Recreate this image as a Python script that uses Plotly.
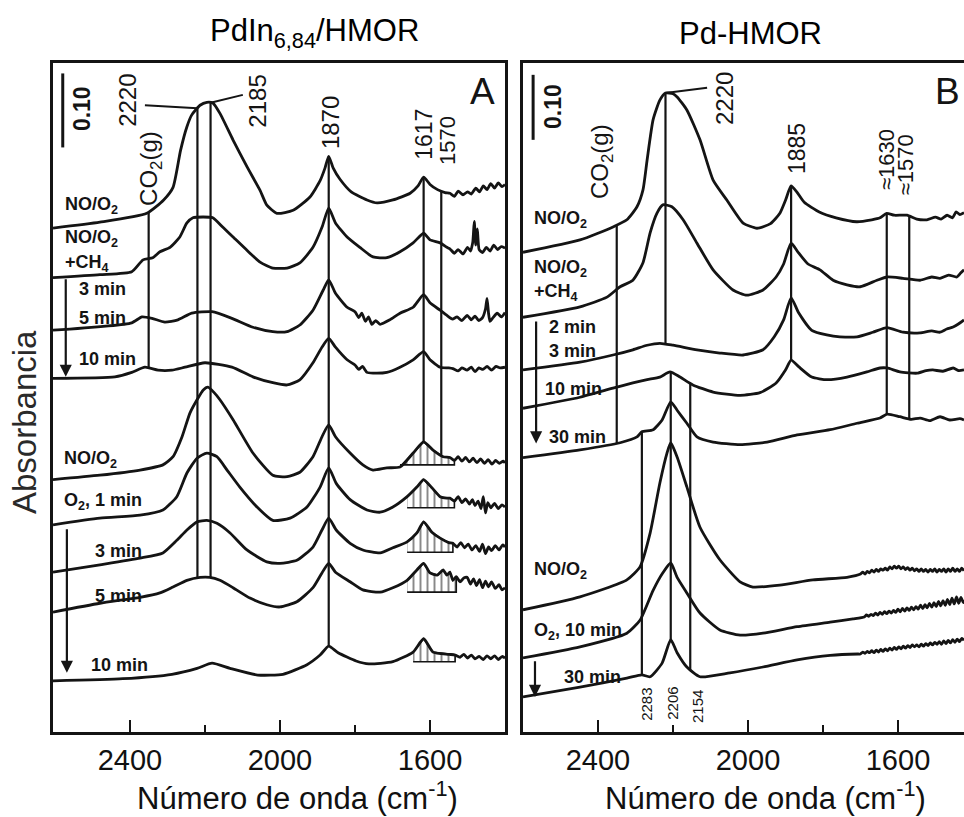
import numpy as np
import plotly.graph_objects as go

FONT = "Liberation Sans, Arial, Helvetica, sans-serif"
INK = "#141414"

# ---------------------------------------------------------------------------
# Panel A - PdIn6,84/HMOR : stacked IR spectra, (wavenumber cm-1, absorbance)
# absorbance values include the vertical stacking offset of each spectrum
# ---------------------------------------------------------------------------
A_no_o2 = [
    (2605, 0.681), (2480, 0.689), (2355, 0.701), (2310, 0.719), (2285, 0.736),
    (2265, 0.786), (2248, 0.818), (2235, 0.834), (2213, 0.847), (2195, 0.851),
    (2179, 0.850), (2160, 0.836), (2125, 0.800), (2088, 0.764), (2053, 0.732),
    (2035, 0.712), (2008, 0.701), (1965, 0.705), (1920, 0.723), (1893, 0.745),
    (1880, 0.762), (1870, 0.778), (1858, 0.762), (1840, 0.747), (1810, 0.730),
    (1768, 0.719), (1741, 0.715), (1699, 0.719), (1653, 0.728), (1632, 0.738),
    (1617, 0.750), (1600, 0.740), (1580, 0.733), (1560, 0.729), (1547, 0.728),
    (1535, 0.724), (1525, 0.731), (1512, 0.726), (1500, 0.730), (1490, 0.727),
    (1478, 0.735), (1468, 0.730), (1458, 0.738), (1448, 0.733), (1438, 0.741),
    (1428, 0.735), (1418, 0.742), (1408, 0.737), (1400, 0.740),
]
A_no_o2_ch4 = [
    (2605, 0.614), (2480, 0.618), (2395, 0.622), (2365, 0.638), (2339, 0.641),
    (2320, 0.649), (2293, 0.655), (2267, 0.669), (2248, 0.688), (2232, 0.695),
    (2205, 0.696), (2179, 0.695), (2152, 0.682), (2125, 0.669), (2088, 0.651),
    (2053, 0.635), (2019, 0.627), (1981, 0.627), (1947, 0.634), (1912, 0.655),
    (1888, 0.682), (1870, 0.708), (1852, 0.688), (1821, 0.669), (1787, 0.655),
    (1752, 0.642), (1715, 0.641), (1680, 0.649), (1645, 0.661), (1617, 0.674),
    (1600, 0.665), (1573, 0.661), (1555, 0.655), (1547, 0.653), (1535, 0.647),
    (1525, 0.652), (1512, 0.646), (1500, 0.655), (1492, 0.650), (1486, 0.662),
    (1482, 0.690), (1478, 0.658), (1474, 0.680), (1469, 0.652), (1460, 0.648),
    (1450, 0.655), (1440, 0.650), (1430, 0.658), (1420, 0.652), (1410, 0.656),
    (1400, 0.654),
]
A_ch4_5min = [
    (2605, 0.543), (2395, 0.553), (2368, 0.561), (2341, 0.559), (2307, 0.554),
    (2272, 0.557), (2235, 0.566), (2181, 0.568), (2128, 0.559), (2072, 0.547),
    (2019, 0.541), (1981, 0.541), (1947, 0.550), (1912, 0.570), (1885, 0.597),
    (1870, 0.611), (1852, 0.593), (1821, 0.574), (1800, 0.568), (1790, 0.560),
    (1782, 0.566), (1772, 0.555), (1764, 0.561), (1755, 0.551), (1745, 0.556),
    (1733, 0.551), (1707, 0.557), (1680, 0.566), (1645, 0.574), (1617, 0.591),
    (1600, 0.580), (1573, 0.570), (1555, 0.563), (1540, 0.558), (1528, 0.561),
    (1515, 0.556), (1501, 0.563), (1490, 0.557), (1480, 0.562), (1470, 0.556),
    (1460, 0.560), (1452, 0.572), (1448, 0.586), (1444, 0.566), (1440, 0.555),
    (1432, 0.560), (1421, 0.566), (1410, 0.561), (1400, 0.567),
]
A_ch4_10min = [
    (2605, 0.478), (2440, 0.480), (2395, 0.486), (2360, 0.493), (2325, 0.489),
    (2288, 0.489), (2253, 0.493), (2200, 0.499), (2128, 0.493), (2072, 0.480),
    (2019, 0.472), (1981, 0.469), (1947, 0.476), (1912, 0.499), (1888, 0.520),
    (1870, 0.532), (1852, 0.520), (1821, 0.503), (1800, 0.496), (1790, 0.490),
    (1780, 0.494), (1768, 0.486), (1752, 0.485), (1715, 0.486), (1680, 0.493),
    (1645, 0.503), (1617, 0.514), (1600, 0.503), (1573, 0.493), (1550, 0.492),
    (1539, 0.491), (1525, 0.488), (1515, 0.492), (1501, 0.489), (1490, 0.493),
    (1480, 0.487), (1470, 0.492), (1459, 0.490), (1448, 0.494), (1436, 0.489),
    (1424, 0.494), (1413, 0.492), (1400, 0.493),
]
A_no_o2_b = [
    (2605, 0.341), (2480, 0.347), (2373, 0.354), (2312, 0.361), (2285, 0.372),
    (2261, 0.399), (2240, 0.431), (2221, 0.449), (2205, 0.462), (2192, 0.466),
    (2176, 0.459), (2160, 0.449), (2125, 0.422), (2072, 0.377), (2019, 0.347),
    (1981, 0.345), (1947, 0.351), (1912, 0.372), (1888, 0.399), (1870, 0.415),
    (1852, 0.399), (1813, 0.377), (1779, 0.361), (1752, 0.354), (1715, 0.357),
    (1680, 0.358), (1645, 0.377), (1617, 0.392), (1592, 0.381), (1565, 0.372),
    (1547, 0.371), (1535, 0.367), (1525, 0.372), (1515, 0.366), (1505, 0.371),
    (1495, 0.365), (1485, 0.370), (1475, 0.364), (1465, 0.369), (1455, 0.363),
    (1445, 0.368), (1435, 0.362), (1425, 0.367), (1415, 0.363), (1405, 0.366),
    (1400, 0.364),
]
A_o2_1min = [
    (2605, 0.280), (2480, 0.289), (2373, 0.293), (2312, 0.300), (2275, 0.318),
    (2248, 0.350), (2221, 0.370), (2195, 0.377), (2168, 0.372), (2141, 0.354),
    (2107, 0.331), (2061, 0.304), (2019, 0.286), (1973, 0.289), (1928, 0.304),
    (1893, 0.331), (1870, 0.357), (1850, 0.336), (1813, 0.314), (1768, 0.300),
    (1733, 0.297), (1699, 0.304), (1661, 0.318), (1635, 0.331), (1617, 0.341),
    (1595, 0.330), (1573, 0.318), (1555, 0.316), (1547, 0.316), (1535, 0.312),
    (1525, 0.318), (1515, 0.310), (1505, 0.315), (1495, 0.308), (1487, 0.314),
    (1480, 0.306), (1472, 0.312), (1464, 0.302), (1458, 0.318), (1452, 0.296),
    (1446, 0.310), (1438, 0.303), (1428, 0.309), (1418, 0.302), (1408, 0.307),
    (1400, 0.304),
]
A_o2_3min = [
    (2605, 0.216), (2480, 0.226), (2373, 0.235), (2312, 0.242), (2275, 0.259),
    (2248, 0.273), (2221, 0.284), (2195, 0.286), (2168, 0.282), (2133, 0.269),
    (2088, 0.246), (2035, 0.230), (2000, 0.228), (1955, 0.232), (1912, 0.250),
    (1888, 0.273), (1870, 0.289), (1850, 0.273), (1813, 0.255), (1779, 0.246),
    (1733, 0.242), (1699, 0.249), (1661, 0.257), (1635, 0.269), (1617, 0.284),
    (1595, 0.270), (1573, 0.262), (1550, 0.256), (1539, 0.255), (1528, 0.250),
    (1518, 0.256), (1508, 0.249), (1498, 0.254), (1488, 0.246), (1478, 0.252),
    (1468, 0.244), (1460, 0.254), (1452, 0.241), (1444, 0.250), (1436, 0.245),
    (1426, 0.252), (1416, 0.246), (1406, 0.253), (1400, 0.250),
]
A_o2_5min = [
    (2605, 0.162), (2480, 0.174), (2373, 0.182), (2320, 0.188), (2285, 0.196),
    (2248, 0.205), (2213, 0.209), (2187, 0.209), (2160, 0.205), (2125, 0.195),
    (2080, 0.181), (2035, 0.172), (2000, 0.169), (1955, 0.176), (1912, 0.195),
    (1888, 0.215), (1870, 0.228), (1852, 0.216), (1813, 0.203), (1779, 0.192),
    (1733, 0.189), (1699, 0.195), (1661, 0.205), (1635, 0.219), (1617, 0.228),
    (1600, 0.215), (1581, 0.212), (1565, 0.219), (1555, 0.212), (1547, 0.216),
    (1539, 0.205), (1530, 0.210), (1520, 0.203), (1510, 0.208), (1501, 0.209),
    (1492, 0.200), (1484, 0.207), (1476, 0.198), (1468, 0.206), (1460, 0.195),
    (1452, 0.204), (1444, 0.196), (1436, 0.203), (1426, 0.194), (1416, 0.199),
    (1408, 0.192), (1400, 0.195),
]
A_o2_10min = [
    (2605, 0.069), (2419, 0.072), (2288, 0.078), (2221, 0.086), (2181, 0.093),
    (2133, 0.086), (2059, 0.077), (1992, 0.078), (1928, 0.091), (1893, 0.104),
    (1870, 0.116), (1845, 0.107), (1797, 0.096), (1763, 0.092), (1699, 0.095),
    (1645, 0.108), (1617, 0.126), (1592, 0.108), (1550, 0.105), (1533, 0.104),
    (1520, 0.101), (1510, 0.105), (1500, 0.100), (1490, 0.104), (1480, 0.099),
    (1469, 0.102), (1458, 0.098), (1448, 0.103), (1438, 0.099), (1428, 0.103),
    (1418, 0.098), (1408, 0.102), (1400, 0.100),
]

# ---------------------------------------------------------------------------
# Panel B - Pd-HMOR
# ---------------------------------------------------------------------------
B_no_o2 = [
    (2600, 0.738), (2448, 0.757), (2360, 0.777), (2323, 0.788), (2296, 0.808),
    (2280, 0.834), (2269, 0.880), (2253, 0.942), (2235, 0.972), (2220, 0.983),
    (2200, 0.982), (2189, 0.977), (2163, 0.957), (2128, 0.911), (2093, 0.849),
    (2056, 0.818), (2013, 0.783), (1976, 0.775), (1940, 0.782), (1915, 0.798),
    (1900, 0.818), (1885, 0.840), (1870, 0.831), (1850, 0.815), (1810, 0.800),
    (1765, 0.791), (1710, 0.785), (1670, 0.788), (1648, 0.791), (1630, 0.798),
    (1610, 0.795), (1576, 0.795), (1550, 0.789), (1523, 0.788), (1500, 0.792),
    (1485, 0.789), (1469, 0.795), (1455, 0.791), (1445, 0.800), (1435, 0.796),
    (1424, 0.799),
]
B_no_o2_ch4 = [
    (2600, 0.638), (2448, 0.654), (2376, 0.669), (2341, 0.685), (2307, 0.695),
    (2280, 0.722), (2261, 0.768), (2243, 0.798), (2227, 0.811), (2203, 0.808),
    (2173, 0.788), (2136, 0.752), (2093, 0.711), (2040, 0.680), (2003, 0.672),
    (1960, 0.680), (1925, 0.700), (1905, 0.720), (1885, 0.752), (1865, 0.737),
    (1840, 0.720), (1808, 0.711), (1773, 0.695), (1736, 0.688), (1701, 0.685),
    (1656, 0.695), (1629, 0.700), (1587, 0.698), (1541, 0.695), (1510, 0.700),
    (1488, 0.698), (1465, 0.703), (1443, 0.700), (1433, 0.706), (1424, 0.711),
]
B_ch4_3min = [
    (2600, 0.557), (2448, 0.569), (2360, 0.580), (2307, 0.588), (2269, 0.595),
    (2235, 0.598), (2200, 0.595), (2136, 0.588), (2075, 0.583), (2013, 0.580),
    (1960, 0.588), (1930, 0.608), (1905, 0.634), (1885, 0.668), (1865, 0.645),
    (1830, 0.618), (1790, 0.611), (1755, 0.608), (1709, 0.608), (1667, 0.615),
    (1629, 0.622), (1587, 0.615), (1541, 0.614), (1510, 0.617), (1488, 0.615),
    (1470, 0.620), (1453, 0.623), (1438, 0.628), (1424, 0.634),
]
B_ch4_10min = [
    (2600, 0.498), (2448, 0.515), (2360, 0.529), (2307, 0.537), (2269, 0.542),
    (2235, 0.546), (2208, 0.554), (2181, 0.546), (2147, 0.534), (2093, 0.523),
    (2021, 0.518), (1968, 0.522), (1925, 0.537), (1900, 0.557), (1885, 0.572),
    (1865, 0.562), (1830, 0.546), (1789, 0.542), (1736, 0.546), (1683, 0.554),
    (1648, 0.560), (1629, 0.560), (1595, 0.554), (1549, 0.552), (1525, 0.556),
    (1507, 0.557), (1480, 0.555), (1453, 0.560), (1438, 0.556), (1424, 0.557),
]
B_ch4_30min = [
    (2600, 0.422), (2448, 0.434), (2341, 0.445), (2296, 0.454), (2283, 0.462),
    (2253, 0.465), (2229, 0.480), (2206, 0.508), (2189, 0.495), (2163, 0.475),
    (2136, 0.454), (2093, 0.446), (2021, 0.442), (1949, 0.446), (1869, 0.457),
    (1781, 0.465), (1709, 0.475), (1648, 0.483), (1629, 0.489), (1595, 0.485),
    (1565, 0.481), (1541, 0.483), (1515, 0.479), (1488, 0.485), (1462, 0.480),
    (1435, 0.482), (1424, 0.480),
]
B_no_o2_b = [
    (2600, 0.188), (2448, 0.208), (2323, 0.234), (2288, 0.254), (2261, 0.306),
    (2235, 0.383), (2216, 0.429), (2206, 0.445), (2189, 0.423), (2163, 0.377),
    (2128, 0.315), (2075, 0.265), (2021, 0.231), (1987, 0.223), (1915, 0.226),
    (1827, 0.234), (1736, 0.238), (1700, 0.243), (1694, 0.246), (1688, 0.243),
    (1682, 0.247), (1676, 0.245), (1670, 0.249), (1664, 0.246), (1658, 0.250),
    (1652, 0.247), (1646, 0.251), (1640, 0.249), (1634, 0.252), (1628, 0.249),
    (1622, 0.254), (1616, 0.251), (1610, 0.255), (1604, 0.252), (1598, 0.255),
    (1592, 0.251), (1586, 0.254), (1580, 0.250), (1574, 0.253), (1568, 0.249),
    (1562, 0.252), (1556, 0.248), (1550, 0.251), (1544, 0.247), (1538, 0.251),
    (1532, 0.247), (1526, 0.250), (1520, 0.246), (1514, 0.250), (1508, 0.247),
    (1502, 0.251), (1496, 0.246), (1490, 0.250), (1484, 0.247), (1478, 0.251),
    (1472, 0.246), (1466, 0.251), (1460, 0.247), (1454, 0.252), (1448, 0.247),
    (1442, 0.251), (1436, 0.247), (1430, 0.252), (1424, 0.248),
]
B_o2_10min = [
    (2600, 0.114), (2448, 0.131), (2323, 0.152), (2288, 0.172), (2253, 0.218),
    (2227, 0.245), (2206, 0.260), (2189, 0.238), (2163, 0.214), (2128, 0.183),
    (2075, 0.157), (2021, 0.149), (1960, 0.152), (1869, 0.162), (1781, 0.169),
    (1720, 0.174), (1690, 0.177), (1684, 0.180), (1678, 0.178), (1672, 0.181),
    (1666, 0.179), (1660, 0.183), (1654, 0.180), (1648, 0.184), (1642, 0.181),
    (1636, 0.185), (1630, 0.182), (1624, 0.186), (1618, 0.183), (1612, 0.187),
    (1606, 0.184), (1600, 0.189), (1594, 0.185), (1588, 0.190), (1582, 0.186),
    (1576, 0.191), (1570, 0.187), (1564, 0.192), (1558, 0.188), (1552, 0.193),
    (1546, 0.189), (1540, 0.195), (1534, 0.190), (1528, 0.196), (1522, 0.191),
    (1516, 0.198), (1510, 0.192), (1504, 0.199), (1498, 0.193), (1492, 0.201),
    (1486, 0.194), (1480, 0.202), (1474, 0.195), (1468, 0.204), (1462, 0.196),
    (1456, 0.206), (1450, 0.197), (1444, 0.208), (1438, 0.198), (1432, 0.207),
    (1426, 0.199), (1424, 0.203),
]
B_o2_30min = [
    (2600, 0.054), (2448, 0.069), (2323, 0.083), (2283, 0.088), (2261, 0.085),
    (2229, 0.106), (2206, 0.142), (2189, 0.122), (2163, 0.100), (2128, 0.085),
    (2048, 0.091), (1960, 0.100), (1869, 0.111), (1781, 0.118), (1706, 0.120),
    (1700, 0.120), (1694, 0.123), (1688, 0.121), (1682, 0.124), (1676, 0.122),
    (1670, 0.125), (1664, 0.122), (1658, 0.126), (1652, 0.123), (1646, 0.127),
    (1640, 0.124), (1634, 0.128), (1628, 0.125), (1622, 0.129), (1616, 0.126),
    (1610, 0.130), (1604, 0.127), (1598, 0.131), (1592, 0.128), (1586, 0.132),
    (1580, 0.129), (1574, 0.133), (1568, 0.130), (1562, 0.134), (1556, 0.131),
    (1550, 0.134), (1544, 0.131), (1538, 0.135), (1532, 0.132), (1526, 0.136),
    (1520, 0.133), (1514, 0.137), (1508, 0.134), (1502, 0.138), (1496, 0.135),
    (1490, 0.139), (1484, 0.135), (1478, 0.140), (1472, 0.136), (1466, 0.141),
    (1460, 0.137), (1454, 0.142), (1448, 0.138), (1442, 0.143), (1436, 0.139),
    (1430, 0.144), (1424, 0.141),
]

A_spectra = {
    "no_o2": A_no_o2, "no_o2_ch4": A_no_o2_ch4, "ch4_5min": A_ch4_5min,
    "ch4_10min": A_ch4_10min, "no_o2_b": A_no_o2_b, "o2_1min": A_o2_1min,
    "o2_3min": A_o2_3min, "o2_5min": A_o2_5min, "o2_10min": A_o2_10min,
}
B_spectra = {
    "no_o2": B_no_o2, "no_o2_ch4": B_no_o2_ch4, "ch4_3min": B_ch4_3min,
    "ch4_10min": B_ch4_10min, "ch4_30min": B_ch4_30min, "no_o2_b": B_no_o2_b,
    "o2_10min": B_o2_10min, "o2_30min": B_o2_30min,
}

# band markers: (wavenumber, spectrum where the line starts, spectrum where it ends)
A_bands = [
    (2350, "no_o2", "ch4_10min"), (2220, "no_o2", "o2_5min"),
    (2185, "no_o2", "o2_5min"), (1870, "no_o2", "o2_10min"),
    (1617, "no_o2", "no_o2_b"), (1570, "no_o2", "no_o2_b"),
]
B_bands = [
    (2350, "no_o2", "ch4_30min"), (2220, "no_o2", "ch4_3min"),
    (1885, "no_o2", "ch4_10min"), (1630, "no_o2", "ch4_30min"),
    (1570, "no_o2", "ch4_30min"), (2283, "ch4_30min", "o2_30min"),
    (2206, "ch4_10min", "o2_30min"), (2154, "ch4_10min", "o2_30min"),
]

# integrated 1617 cm-1 band under the O2 series (hatched), baseline absorbance
A_hatch_base = {"no_o2_b": 0.361, "o2_1min": 0.303, "o2_3min": 0.243,
                "o2_5min": 0.189, "o2_10min": 0.095}
A_hatch_span = (1530, 1690)

SCALE_BAR = 0.10

fig = go.Figure()


def at(pts, w):
    wn, ab = zip(*sorted(pts))
    return float(np.interp(w, wn, ab))


def line_trace(x, y, xa, ya, width=2.4, shape="linear", smoothing=0):
    return go.Scatter(x=list(x), y=list(y), xaxis=xa, yaxis=ya, mode="lines",
                      line=dict(color=INK, width=width, shape=shape, smoothing=smoothing),
                      hoverinfo="skip", showlegend=False)


# hatched band areas (drawn first, under the spectra)
lo, hi = A_hatch_span
for key, base in A_hatch_base.items():
    seg = [p for p in A_spectra[key] if lo <= p[0] <= hi]
    xs = [p[0] for p in seg] + [seg[-1][0], seg[0][0]]
    ys = [p[1] for p in seg] + [base, base]
    fig.add_trace(go.Scatter(
        x=xs, y=ys, xaxis="x", yaxis="y", mode="lines", fill="toself",
        fillcolor="rgba(0,0,0,0)",
        fillpattern=dict(shape="|", size=7, solidity=0.28, fgcolor=INK,
                         bgcolor="rgba(0,0,0,0)"),
        line=dict(color=INK, width=1.6), hoverinfo="skip", showlegend=False))

# spectra
for spectra, xa, ya in ((A_spectra, "x", "y"), (B_spectra, "x2", "y2")):
    for pts in spectra.values():
        wn, ab = zip(*pts)
        fig.add_trace(line_trace(wn, ab, xa, ya, width=2.8, shape="spline", smoothing=0.55))

# band marker lines
for bands, spectra, xa, ya in ((A_bands, A_spectra, "x", "y"), (B_bands, B_spectra, "x2", "y2")):
    for w, top, bottom in bands:
        fig.add_trace(line_trace([w, w], [at(spectra[top], w), at(spectra[bottom], w)], xa, ya, width=2.2))

# leader lines from band lines to their labels
fig.add_trace(line_trace([2220, 2360], [at(A_no_o2, 2220), 0.847], "x", "y", width=2))
fig.add_trace(line_trace([2185, 2099], [at(A_no_o2, 2185), 0.861], "x", "y", width=2))
fig.add_trace(line_trace([2220, 2109], [at(B_no_o2, 2220), 0.991], "x2", "y2", width=2))

# absorbance scale bars (0.10)
fig.add_trace(line_trace([2579, 2579], [0.790, 0.790 + SCALE_BAR], "x", "y", width=3))
fig.add_trace(line_trace([2573, 2573], [0.911, 0.911 + SCALE_BAR], "x2", "y2", width=3))

ann = []


def text(x, y, s, ref="", size=18, bold=True, angle=0, xanchor="left"):
    ann.append(dict(x=x, y=y, xref="x" + ref, yref="y" + ref, text=f"<b>{s}</b>" if bold else s,
                    showarrow=False, textangle=angle, xanchor=xanchor, yanchor="middle",
                    font=dict(family=FONT, size=size, color=INK)))


def arrow(x, y0, y1, ref=""):
    ann.append(dict(x=x, y=y1, ax=x, ay=y0, xref="x" + ref, yref="y" + ref,
                    axref="x" + ref, ayref="y" + ref, text="", showarrow=True,
                    arrowhead=2, arrowsize=1.1, arrowwidth=2.2, arrowcolor=INK))


# panel A condition labels
text(2579, 0.712, "NO/O<sub>2</sub>")
text(2579, 0.667, "NO/O<sub>2</sub>")
text(2579, 0.633, "+CH<sub>4</sub>")
text(2541, 0.599, "3 min")
text(2541, 0.559, "5 min")
text(2541, 0.504, "10 min")
text(2581, 0.368, "NO/O<sub>2</sub>")
text(2581, 0.312, "O<sub>2</sub>, 1 min")
text(2499, 0.245, "3 min")
text(2499, 0.184, "5 min")
text(2509, 0.091, "10 min")
arrow(2571, 0.614, 0.480)
arrow(2568, 0.276, 0.080)

# panel A band labels
text(2405, 0.853, "2220", size=24, bold=False, angle=-90, xanchor="center")
text(2059, 0.853, "2185", size=24, bold=False, angle=-90, xanchor="center")
text(1867, 0.824, "1870", size=24, bold=False, angle=-90, xanchor="center")
text(1616, 0.807, "1617", size=23, bold=False, angle=-90, xanchor="center")
text(1555, 0.800, "1570", size=22, bold=False, angle=-90, xanchor="center")
text(2347, 0.762, "CO<sub>2</sub>(g)", size=24, bold=False, angle=-90, xanchor="center")
text(2528, 0.843, "0.10", size=23, bold=True, angle=-90, xanchor="center")
text(1461, 0.866, "A", size=37, bold=False, xanchor="center")

# panel B condition labels
text(2576, 0.788, "NO/O<sub>2</sub>", "2")
text(2576, 0.713, "NO/O<sub>2</sub>", "2")
text(2576, 0.676, "+CH<sub>4</sub>", "2")
text(2536, 0.623, "2 min", "2")
text(2536, 0.586, "3 min", "2")
text(2547, 0.528, "10 min", "2")
text(2536, 0.454, "30 min", "2")
text(2576, 0.248, "NO/O<sub>2</sub>", "2")
text(2576, 0.155, "O<sub>2</sub>, 10 min", "2")
text(2496, 0.085, "30 min", "2")
arrow(2565, 0.634, 0.444, "2")
arrow(2568, 0.111, 0.054, "2")

# panel B band labels
text(2061, 0.974, "2220", "2", size=24, bold=False, angle=-90, xanchor="center")
text(1869, 0.897, "1885", "2", size=23, bold=False, angle=-90, xanchor="center")
text(1629, 0.880, "≈1630", "2", size=22, bold=False, angle=-90, xanchor="center")
text(1581, 0.872, "≈1570", "2", size=22, bold=False, angle=-90, xanchor="center")
text(2389, 0.877, "CO<sub>2</sub>(g)", "2", size=24, bold=False, angle=-90, xanchor="center")
text(2520, 0.963, "0.10", "2", size=23, bold=True, angle=-90, xanchor="center")
text(2269, 0.042, "2283", "2", size=15, bold=False, angle=-90, xanchor="center")
text(2200, 0.045, "2206", "2", size=15, bold=False, angle=-90, xanchor="center")
text(2136, 0.040, "2154", "2", size=15, bold=False, angle=-90, xanchor="center")
text(1467, 0.986, "B", "2", size=37, bold=False, xanchor="center")

# panel titles and axis titles
for x, s in ((0.2865, "PdIn<sub>6,84</sub>/HMOR"), (0.7651, "Pd-HMOR")):
    ann.append(dict(x=x, y=1.0448, xref="paper", yref="paper", text=s, showarrow=False,
                    xanchor="center", yanchor="middle", font=dict(family=FONT, size=31, color="#000")))
for x in (0.2689, 0.7816):
    ann.append(dict(x=x, y=-0.0955, xref="paper", yref="paper",
                    text="Número de onda (cm<sup>-1</sup>)", showarrow=False,
                    xanchor="center", yanchor="middle", font=dict(family=FONT, size=31, color="#111")))
ann.append(dict(x=-0.0307, y=0.4634, xref="paper", yref="paper", text="Absorbancia",
                textangle=-90, showarrow=False, xanchor="center", yanchor="middle",
                font=dict(family=FONT, size=33, color="#2a2a2a")))

xaxis_common = dict(
    showline=True, linecolor=INK, linewidth=2.6, mirror=True,
    ticks="inside", ticklen=12, tickwidth=2.2, tickcolor=INK,
    tickvals=[2400, 2000, 1600], ticktext=["2400", "2000", "1600"],
    tickfont=dict(family=FONT, size=29, color="#111"), ticklabelstandoff=0,
    minor=dict(tickvals=[2200, 1800], ticks="inside", ticklen=7, tickwidth=2.2,
               tickcolor=INK, showgrid=False),
    showgrid=False, zeroline=False, fixedrange=True,
)

fig.update_layout(
    width=964, height=817,
    margin=dict(l=53, r=0, t=63, b=85),
    paper_bgcolor="white", plot_bgcolor="white",
    showlegend=False,
    xaxis=dict(domain=[0, 0.4962], range=[2605, 1400], anchor="y", **xaxis_common),
    xaxis2=dict(domain=[0.5159, 1], range=[2600, 1424], anchor="y2", **xaxis_common),
    yaxis=dict(domain=[0, 1], range=[0, 0.9041], anchor="x", showline=True,
               linecolor=INK, linewidth=2.6, mirror=True, showticklabels=False,
               ticks="", showgrid=False, zeroline=False),
    yaxis2=dict(domain=[0, 1], range=[0, 1.0292], anchor="x2", showline=True,
                linecolor=INK, linewidth=2.6, mirror=False, showticklabels=False,
                ticks="", showgrid=False, zeroline=False),
    annotations=ann,
)

fig.write_html("out.html")
